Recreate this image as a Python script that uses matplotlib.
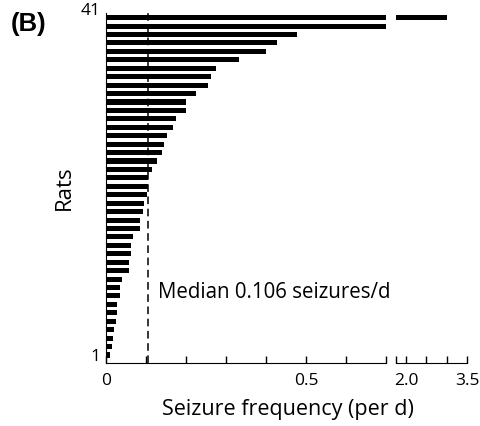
import matplotlib
matplotlib.use("Agg")
import matplotlib.pyplot as plt
import matplotlib.transforms as mtransforms

rats = list(range(1, 42))
freq = [0.010, 0.014, 0.018, 0.020, 0.025, 0.027, 0.028, 0.035, 0.035, 0.039,
        0.058, 0.058, 0.062, 0.062, 0.068, 0.085, 0.085, 0.092, 0.095, 0.103,
        0.106, 0.106, 0.114, 0.128, 0.141, 0.145, 0.152, 0.167, 0.175, 0.199,
        0.199, 0.225, 0.256, 0.262, 0.275, 0.333, 0.400, 0.428, 0.478, 0.700,
        3.000]
median = 0.106
left_ticks = [0, 0.1, 0.2, 0.3, 0.4, 0.5, 0.6, 0.7]
left_labels = ["0", "", "", "", "", "0.5", "", ""]
right_ticks = [1.75, 2.0, 2.5, 3.0, 3.5]
right_labels = ["", "2.0", "", "", "3.5"]

plt.rcParams['font.family'] = ['Open Sans', 'DejaVu Sans']

fig = plt.figure(figsize=(4.8, 4.26), dpi=100)
bottom = 1 - 363 / 426
height = (363 - 13) / 426
axL = fig.add_axes([106 / 480, bottom, 280 / 480, height])
axR = fig.add_axes([396 / 480, bottom, 71 / 480, height], sharey=axL)

for ax in (axL, axR):
    ax.barh(rats, freq, height=0.6, color='black')
    for s in ('top', 'right'):
        ax.spines[s].set_visible(False)
    ax.tick_params(axis='x', direction='in', length=5, width=1, labelsize=12.5, pad=7)

axL.set_xlim(0, 0.7)
axR.set_xlim(1.75, 3.5)
axL.set_ylim(0.05, 41.55)
axL.set_xticks(left_ticks)
axL.set_xticklabels(left_labels)
axR.set_xticks(right_ticks)
axR.set_xticklabels(right_labels)
axR.spines['left'].set_visible(False)
axR.tick_params(axis='y', left=False, labelleft=False)

axL.set_yticks([1, 41])
axL.set_yticklabels(["1", "41"])
axL.tick_params(axis='y', length=0, labelsize=12.5, pad=4)
lab41 = axL.get_yticklabels()[1]
lab41.set_transform(lab41.get_transform() + mtransforms.ScaledTranslation(0, 9 / 100, fig.dpi_scale_trans))

axL.axvline(median, color='black', linestyle=(0, (5, 3)), linewidth=1.1)
axL.text(0.13, 8.4, "Median 0.106 seizures/d", fontsize=14.8, va='center', ha='left')

axL.set_ylabel("Rats", fontsize=16)
axL.yaxis.set_label_coords(-0.11, 0.5)
fig.text(288 / 480, 1 - 410 / 426, "Seizure frequency (per d)", fontsize=15.5,
         ha='center', va='center')
fig.text(11 / 480, 1 - 24 / 426, "(B)", fontsize=18.5, fontweight='bold',
         family='Liberation Sans', ha='left', va='center')

fig.savefig("out.png", dpi=100)
